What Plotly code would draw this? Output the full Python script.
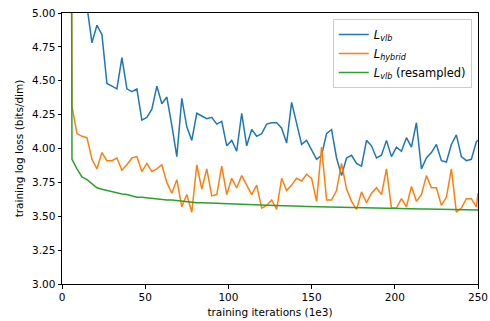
import plotly.graph_objects as go

iterations = [3, 6, 9, 12, 15, 18, 21, 24, 27, 30, 33, 36, 39, 42, 45, 48, 51, 54, 57, 60,
              63, 66, 69, 72, 75, 78, 81, 84, 87, 90, 93, 96, 99, 102, 105, 108, 111, 114, 117, 120,
              123, 126, 129, 132, 135, 138, 141, 144, 147, 150, 153, 156, 159, 162, 165, 168, 171, 174, 177, 180,
              183, 186, 189, 192, 195, 198, 201, 204, 207, 210, 213, 216, 219, 222, 225, 228, 231, 234, 237, 240,
              243, 246, 249, 250]

loss_vlb = [20.0, 8.0, 5.6, 5.3, 5.05, 4.78, 4.91, 4.84, 4.48, 4.46, 4.44, 4.67, 4.44, 4.42, 4.44, 4.21, 4.23, 4.29, 4.46, 4.33,
            4.38, 4.17, 3.94, 4.37, 4.16, 4.06, 4.26, 4.24, 4.22, 4.23, 4.18, 4.20, 4.02, 4.06, 3.98, 4.26, 4.02, 4.14, 4.09, 4.11,
            4.18, 4.19, 4.19, 4.15, 4.04, 4.34, 4.19, 4.03, 4.06, 3.99, 3.92, 3.95, 4.11, 4.14, 3.93, 3.80, 3.93, 3.95, 3.89, 3.87,
            4.06, 4.02, 3.93, 3.95, 4.06, 3.94, 4.01, 3.98, 4.08, 4.01, 4.19, 3.85, 3.93, 3.97, 4.03, 3.91, 3.90, 4.03, 4.10, 3.94,
            3.91, 3.92, 4.05, 4.06]

loss_hybrid = [18.0, 4.31, 4.11, 4.09, 4.08, 3.92, 3.85, 3.97, 3.91, 3.91, 3.93, 3.84, 3.88, 3.93, 3.94, 3.83, 3.89, 3.83, 3.85, 3.88,
               3.75, 3.67, 3.77, 3.57, 3.66, 3.53, 3.88, 3.70, 3.85, 3.65, 3.66, 3.87, 3.66, 3.78, 3.71, 3.80, 3.73, 3.66, 3.73, 3.56,
               3.58, 3.62, 3.55, 3.78, 3.69, 3.73, 3.78, 3.76, 3.81, 3.78, 3.61, 4.01, 3.62, 3.62, 3.69, 3.89, 3.70, 3.61, 3.55, 3.68,
               3.60, 3.67, 3.71, 3.66, 3.85, 3.56, 3.56, 3.63, 3.57, 3.72, 3.61, 3.66, 3.80, 3.71, 3.71, 3.58, 3.64, 3.85, 3.53, 3.56,
               3.63, 3.63, 3.57, 3.67]

loss_vlb_resampled = [20.0, 3.92, 3.85, 3.79, 3.77, 3.74, 3.71, 3.70, 3.69, 3.68, 3.67, 3.665, 3.66, 3.65, 3.64, 3.64, 3.635, 3.63, 3.625, 3.62,
                      3.62, 3.62, 3.615, 3.615, 3.61, 3.605, 3.60, 3.60, 3.60, 3.598, 3.596, 3.594, 3.592, 3.59, 3.59, 3.588, 3.586, 3.585, 3.584, 3.583,
                      3.582, 3.58, 3.578, 3.577, 3.576, 3.575, 3.574, 3.573, 3.572, 3.571, 3.57, 3.57, 3.569, 3.568, 3.567, 3.565, 3.565, 3.564, 3.563, 3.562,
                      3.561, 3.56, 3.56, 3.559, 3.558, 3.557, 3.557, 3.556, 3.555, 3.555, 3.554, 3.553, 3.553, 3.552, 3.551, 3.551, 3.55, 3.55, 3.549, 3.549,
                      3.548, 3.548, 3.547, 3.547]

x_ticks = [0, 50, 100, 150, 200, 250]
y_ticks = [3.00, 3.25, 3.50, 3.75, 4.00, 4.25, 4.50, 4.75, 5.00]

series = [
    ("<i>L</i><sub><i>vlb</i></sub>", loss_vlb, "#1f77b4"),
    ("<i>L</i><sub><i>hybrid</i></sub>", loss_hybrid, "#ff7f0e"),
    ("<i>L</i><sub><i>vlb</i></sub> (resampled)", loss_vlb_resampled, "#2ca02c"),
]

fig = go.Figure()
for name, vals, color in series:
    fig.add_trace(go.Scatter(x=iterations, y=vals, mode="lines", name=name,
                             line=dict(color=color, width=1.5)))

axis_common = dict(showgrid=False, zeroline=False, showline=True, linecolor="black",
                   linewidth=1, mirror=True, ticks="outside", ticklen=3.5, tickwidth=1,
                   tickcolor="black", tickfont=dict(size=10.5, color="black"),
                   automargin=False)

fig.update_layout(
    width=490, height=321,
    margin=dict(l=62, r=12, t=13, b=37),
    paper_bgcolor="white", plot_bgcolor="white",
    font=dict(family="DejaVu Sans", size=10.5, color="black"),
    xaxis=dict(range=[0, 250], tickvals=x_ticks,
               title=dict(text="training iterations (1e3)", standoff=6, font=dict(size=10.5)),
               **axis_common),
    yaxis=dict(range=[3, 5], tickvals=y_ticks, tickformat=".2f",
               title=dict(text="training log loss (bits/dim)", standoff=6, font=dict(size=10.5)),
               **axis_common),
    legend=dict(x=0.985, y=0.978, xanchor="right", yanchor="top",
                bordercolor="#cccccc", borderwidth=1, bgcolor="rgba(255,255,255,0.8)",
                font=dict(size=11.5), itemwidth=30, tracegroupgap=2),
    showlegend=True,
)

fig.write_html("out.html")
